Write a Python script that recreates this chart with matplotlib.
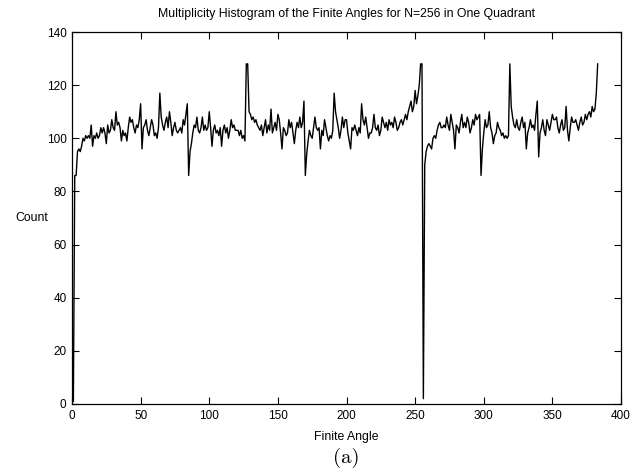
"""
Multiplicity histogram of the finite angles (N=256, one quadrant)
"""

import matplotlib
matplotlib.use("Agg")
import matplotlib.pyplot as plt

# counts, finite angle 1..383
counts = [
    1, 86, 86, 95, 96, 95, 97, 100, 99, 101,
    100, 101, 100, 105, 97, 101, 100, 102, 100, 101,
    104, 102, 104, 102, 98, 105, 102, 103, 107, 104,
    103, 110, 105, 106, 104, 99, 103, 101, 102, 99,
    104, 108, 106, 107, 104, 102, 105, 104, 107, 113,
    96, 104, 105, 107, 103, 101, 104, 107, 105, 101,
    102, 100, 104, 117, 108, 105, 103, 106, 108, 104,
    110, 106, 101, 104, 106, 103, 102, 103, 104, 102,
    107, 105, 109, 113, 86, 95, 98, 102, 105, 104,
    108, 103, 102, 104, 108, 103, 105, 103, 104, 110,
    104, 97, 103, 105, 102, 103, 101, 104, 97, 103,
    105, 102, 104, 100, 103, 107, 104, 105, 103, 103,
    103, 101, 103, 100, 101, 99, 128, 128, 110, 109,
    107, 108, 106, 107, 105, 104, 103, 105, 101, 104,
    107, 102, 105, 103, 111, 102, 104, 106, 103, 109,
    107, 102, 96, 104, 103, 101, 102, 107, 104, 106,
    102, 98, 103, 106, 104, 108, 104, 106, 114, 86,
    94, 99, 103, 101, 100, 104, 108, 104, 103, 104,
    96, 103, 101, 107, 104, 101, 99, 101, 100, 103,
    117, 110, 107, 104, 100, 103, 108, 104, 107, 107,
    102, 99, 96, 104, 103, 105, 103, 101, 104, 102,
    113, 107, 105, 108, 104, 100, 102, 102, 104, 109,
    104, 103, 105, 101, 103, 108, 106, 104, 106, 103,
    107, 105, 106, 104, 108, 106, 103, 104, 106, 107,
    105, 107, 109, 107, 110, 112, 114, 110, 112, 118,
    113, 116, 120, 128, 128, 2, 90, 95, 97, 98,
    97, 96, 100, 101, 100, 103, 105, 106, 104, 104,
    105, 104, 108, 105, 103, 109, 106, 103, 96, 105,
    104, 102, 106, 109, 104, 106, 104, 108, 106, 102,
    104, 107, 105, 109, 107, 108, 109, 86, 96, 102,
    107, 104, 105, 110, 104, 102, 98, 101, 102, 106,
    104, 103, 101, 102, 100, 101, 100, 101, 128, 112,
    108, 105, 104, 107, 104, 103, 106, 108, 104, 106,
    96, 102, 104, 107, 104, 105, 103, 109, 114, 93,
    102, 104, 107, 103, 101, 107, 105, 103, 106, 109,
    107, 107, 108, 104, 102, 105, 107, 103, 104, 112,
    103, 99, 104, 108, 106, 106, 107, 105, 103, 106,
    108, 105, 106, 109, 107, 109, 110, 108, 112, 110,
    111, 117, 128,
]
angles = list(range(1, len(counts) + 1))

x_ticks = [0, 50, 100, 150, 200, 250, 300, 350, 400]
y_ticks = [0, 20, 40, 60, 80, 100, 120, 140]

plt.rcParams["font.family"] = ["Liberation Sans", "DejaVu Sans"]

fig = plt.figure(figsize=(6.44, 4.75), dpi=100)
ax = fig.add_axes([0.1118, 0.1495, 0.8525, 0.7831])

ax.plot(angles, counts, color="black", linewidth=1.0)

ax.set_xlim(0, 400)
ax.set_ylim(0, 140)
ax.set_xticks(x_ticks)
ax.set_yticks(y_ticks)
ax.tick_params(direction="in", length=5, width=0.8, labelsize=8.5,
               top=True, right=True, pad=4)
for spine in ax.spines.values():
    spine.set_linewidth(0.9)

ax.set_title("Multiplicity Histogram of the Finite Angles for N=256 in One Quadrant",
             fontsize=8.8, pad=10.5)
ax.set_xlabel("Finite Angle", fontsize=8.8, labelpad=7)
ax.set_ylabel("Count", fontsize=8.8, rotation=0, labelpad=11, va="center")

fig.text(0.537, 0.036, "(a)", family="cmr10", fontsize=15, ha="center", va="center")

fig.savefig("out.png", dpi=100)
